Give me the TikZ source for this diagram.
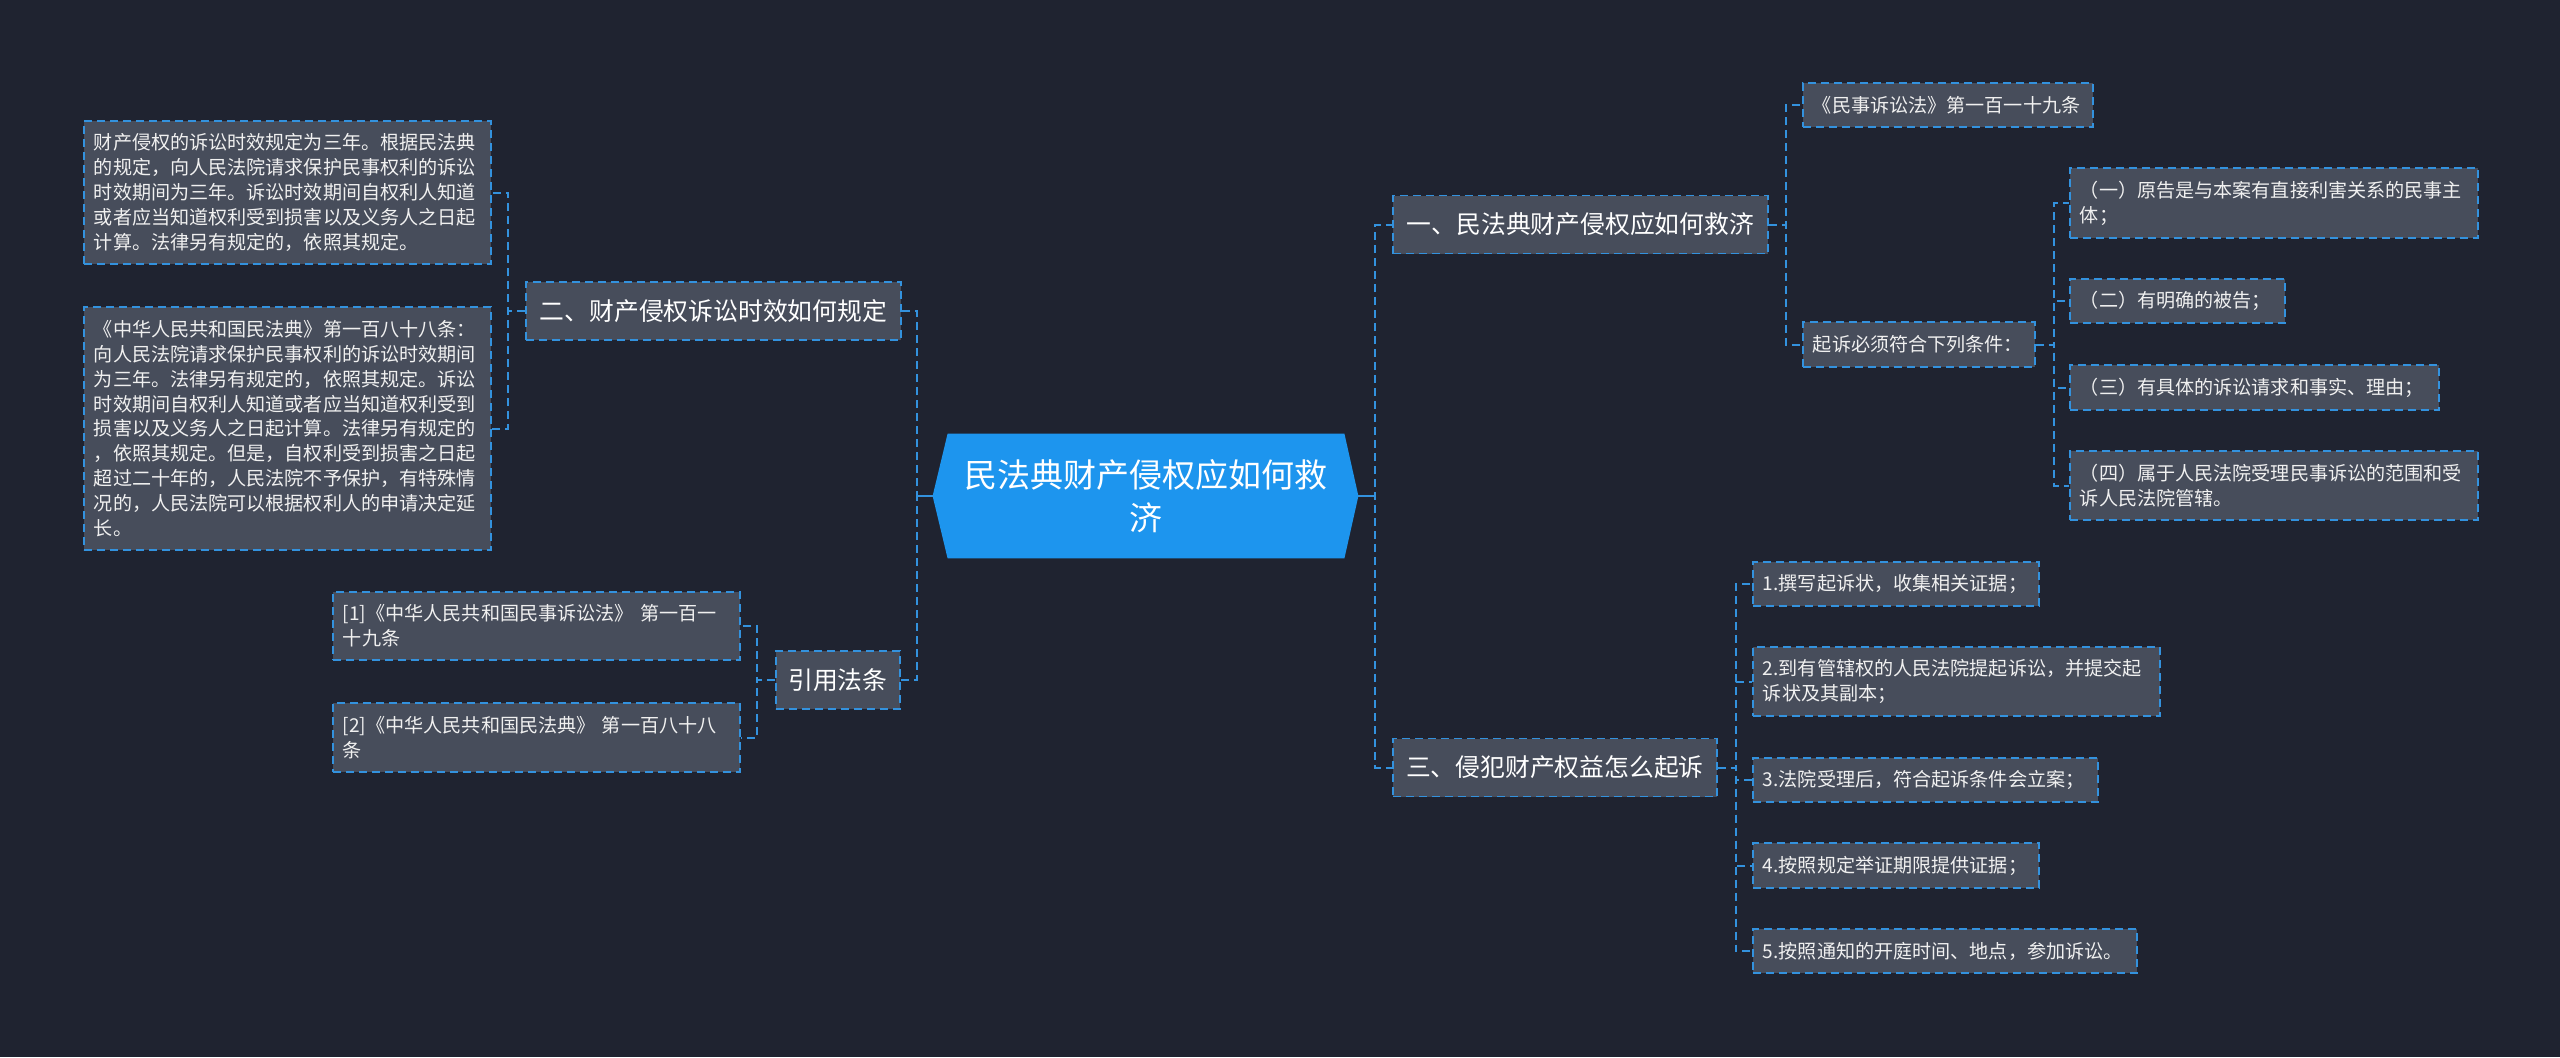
\documentclass[tikz,border=0pt]{standalone}
\usepackage{fontspec}
\setmainfont{Noto Sans CJK SC}
\usepackage{xcolor}
\definecolor{Mbg}{HTML}{1F2330}
\definecolor{Mbox}{HTML}{474D5B}
\definecolor{Mline}{HTML}{3392DE}
\definecolor{Mhub}{HTML}{1D95EE}
\definecolor{Mtext}{HTML}{F0F0F0}
\usetikzlibrary{backgrounds}

\begin{document}
\begin{tikzpicture}[x=0.5pt, y=-0.5pt,
  hub/.style   ={rectangle, minimum width=198pt, minimum height=62pt,
                 align=center, text=white,
                 font=\fontsize{16.5}{21.7}\selectfont},
  topic/.style ={rectangle, anchor=west, draw=Mline, fill=Mbox,
                 line width=0.9pt, dash pattern=on 4pt off 2.5pt,
                 minimum height=29pt, inner xsep=4pt, text=white,
                 font=\fontsize{12.4}{15}\selectfont},
  leaf/.style  ={rectangle, anchor=west, draw=Mline, fill=Mbox,
                 line width=0.9pt, dash pattern=on 4pt off 2.5pt,
                 inner xsep=5pt, inner ysep=2pt, align=left, text=Mtext,
                 font=\fontsize{9.55}{12.4}\selectfont},
  link/.style  ={draw=Mline, line width=1pt, dash pattern=on 4pt off 2.5pt},
  hubstub/.style={draw=Mline, line width=1.2pt},
]

%% ═══════════════ fondo ═══════════════
\begin{pgfonlayer}{background}
  \fill[Mbg] (0,0) rectangle (2560,1057);
\end{pgfonlayer}

%% ═══════════════ centro ═══════════════
\node[hub] (cen) at (1146,496) {民法典财产侵权应如何救\\济};
\coordinate (cenL) at ([xshift=-7.5pt]cen.west);
\coordinate (cenR) at ([xshift=7pt]cen.east);
\begin{pgfonlayer}{background}
  \fill[Mhub] (cen.north west) -- (cen.north east) -- (cenR)
    -- (cen.south east) -- (cen.south west) -- (cenL) -- cycle;
\end{pgfonlayer}

%% ═══════════════ izquierda ═══════════════
\node[topic, minimum width=187.5pt] (n2)   at (525,311) {二、财产侵权诉讼时效如何规定};
\node[topic, minimum width=62pt]    (nref) at (775,680) {引用法条};

\node[leaf, text width=193.5pt, minimum height=71.5pt] (la) at (83,192.5)
  {财产侵权的诉讼时效规定为三年。根据民法典\\的规定，向人民法院请求保护民事权利的诉讼\\时效期间为三年。诉讼时效期间自权利人知道\\或者应当知道权利受到损害以及义务人之日起\\计算。法律另有规定的，依照其规定。};
\node[leaf, text width=193.5pt, minimum height=121.5pt] (lb) at (83,428.5)
  {《中华人民共和国民法典》第一百八十八条：\\向人民法院请求保护民事权利的诉讼时效期间\\为三年。法律另有规定的，依照其规定。诉讼\\时效期间自权利人知道或者应当知道权利受到\\损害以及义务人之日起计算。法律另有规定的\\，依照其规定。但是，自权利受到损害之日起\\超过二十年的，人民法院不予保护，有特殊情\\况的，人民法院可以根据权利人的申请决定延\\长。};
\node[leaf, text width=193.5pt, minimum height=34pt] (r1) at (332,626)
  {[1]《中华人民共和国民事诉讼法》~第一百一\\十九条};
\node[leaf, text width=193.5pt, minimum height=34.5pt] (r2) at (332,737.5)
  {[2]《中华人民共和国民法典》~第一百八十八\\条};

\draw[link] (cenL) -- ++(-16,0) |- (n2.east);
\draw[link] (cenL) -- ++(-16,0) |- (nref.east);
\draw[hubstub] (cenL) -- ++(-16,0);
\draw[link] (n2.west) -- ++(-17,0) |- (la.east);
\draw[link] (n2.west) -- ++(-17,0) |- (lb.east);
\draw[link] (nref.west) -- ++(-18,0) |- (r1.east);
\draw[link] (nref.west) -- ++(-18,0) |- (r2.east);

%% ═══════════════ derecha ═══════════════
\node[topic, minimum width=187.5pt] (n1) at (1392,224.5) {一、民法典财产侵权应如何救济};
\node[topic, minimum width=162pt]   (n3) at (1392,767.5) {三、侵犯财产权益怎么起诉};

\node[leaf, text width=135pt,   minimum height=22pt]   (m1) at (1802,105)   {《民事诉讼法》第一百一十九条};
\node[leaf, text width=106pt,   minimum height=22.5pt] (m2) at (1802,344.5) {起诉必须符合下列条件：};
\node[leaf, text width=194pt,   minimum height=35pt]   (c1) at (2069,203)   {（一）原告是与本案有直接利害关系的民事主\\体；};
\node[leaf, text width=97.5pt,  minimum height=22pt]   (c2) at (2069,301)   {（二）有明确的被告；};
\node[leaf, text width=174.5pt, minimum height=22.5pt] (c3) at (2069,387.5) {（三）有具体的诉讼请求和事实、理由；};
\node[leaf, text width=194pt,   minimum height=34.5pt] (c4) at (2069,485.5) {（四）属于人民法院受理民事诉讼的范围和受\\诉人民法院管辖。};

\node[leaf, text width=133pt,   minimum height=22pt]   (s1) at (1752,584)   {1.撰写起诉状，收集相关证据；};
\node[leaf, text width=193.5pt, minimum height=34.5pt] (s2) at (1752,681.5) {2.到有管辖权的人民法院提起诉讼，并提交起\\诉状及其副本；};
\node[leaf, text width=162.5pt, minimum height=22pt]   (s3) at (1752,780)   {3.法院受理后，符合起诉条件会立案；};
\node[leaf, text width=133pt,   minimum height=22.5pt] (s4) at (1752,865.5) {4.按照规定举证期限提供证据；};
\node[leaf, text width=182pt,   minimum height=22pt]   (s5) at (1752,951)   {5.按照通知的开庭时间、地点，参加诉讼。};

\draw[link] (cenR) -- ++(17,0) |- (n1.west);
\draw[link] (cenR) -- ++(17,0) |- (n3.west);
\draw[hubstub] (cenR) -- ++(17,0);
\draw[link] (n1.east) -- ++(17,0) |- (m1.west);
\draw[link] (n1.east) -- ++(17,0) |- (m2.west);
\foreach \k in {c1,c2,c3,c4}
  \draw[link] (m2.east) -- ++(18,0) |- (\k.west);
\foreach \k in {s1,s2,s3,s4,s5}
  \draw[link] (n3.east) -- ++(18,0) |- (\k.west);

\end{tikzpicture}
\end{document}
